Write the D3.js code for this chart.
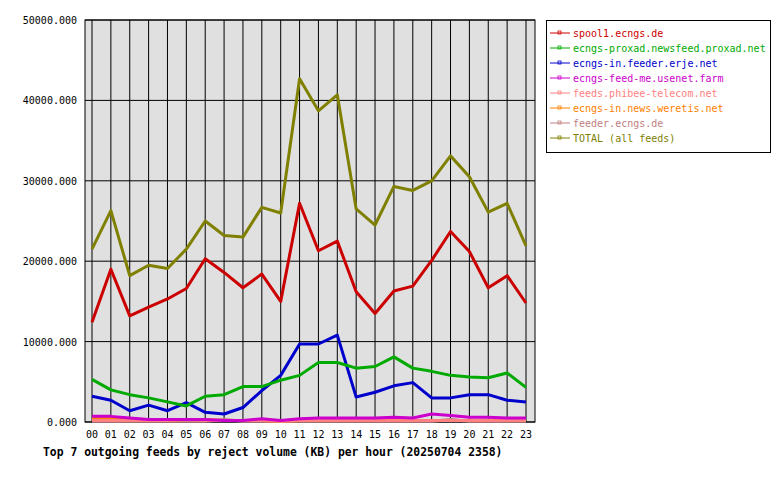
<!DOCTYPE html>
<html><head><meta charset="utf-8">
<script src="https://cdn.jsdelivr.net/npm/d3@7"></script>
<style>body{margin:0;background:#fff}text{font-family:"DejaVu Sans Mono",monospace;font-size:10px}</style>
</head><body><svg id="c" width="780" height="480"></svg>
<script>
const hours=["00","01","02","03","04","05","06","07","08","09","10","11","12","13","14","15","16","17","18","19","20","21","22","23"];
const yTicks=[0,10000,20000,30000,40000,50000];
const seriesNames=["spool1.ecngs.de","ecngs-proxad.newsfeed.proxad.net","ecngs-in.feeder.erje.net","ecngs-feed-me.usenet.farm","feeds.phibee-telecom.net","ecngs-in.news.weretis.net","feeder.ecngs.de","TOTAL (all feeds)"];
const seriesColors=["#cc0000","#00aa00","#0000cc","#cc00cc","#ff8080","#ff8000","#c08080","#808000"];
const spool1=[12400,19000,13200,14300,15300,16600,20300,18600,16700,18400,15000,27200,21300,22500,16200,13500,16300,16900,20100,23700,21200,16700,18200,14800];
const proxad=[5300,4000,3400,3000,2500,2000,3200,3400,4400,4400,5200,5800,7400,7400,6700,6900,8100,6700,6300,5800,5600,5500,6100,4300];
const erje=[3200,2700,1400,2100,1400,2400,1200,1000,1800,3900,5800,9700,9700,10800,3100,3700,4500,4900,3000,3000,3400,3400,2700,2500];
const usenetFarm=[700,700,500,300,300,300,300,200,200,400,200,400,500,500,500,500,600,500,1000,800,600,600,500,500];
const phibee=[200,200,200,200,200,300,200,200,200,200,100,200,200,200,200,200,200,200,200,200,200,200,200,200];
const weretis=[400,500,300,200,200,300,300,200,200,200,100,200,200,200,200,200,200,200,200,200,200,200,200,200];
const feeder=[100,100,100,100,100,100,100,300,100,100,100,100,100,100,100,100,100,100,100,300,100,100,100,100];
const total=[21500,26300,18200,19500,19100,21500,25000,23200,23000,26700,26000,42700,38700,40700,26500,24500,29300,28800,30000,33100,30500,26100,27200,21900];
const allSeries=[spool1,proxad,erje,usenetFarm,phibee,weretis,feeder,total];

const svg=d3.select("#c");
const L=85,R=535,T=20,B=422;
const x=d3.scalePoint().domain(hours).range([92,526]);
const y=d3.scaleLinear().domain([0,50000]).range([B,T]);
svg.append("rect").attr("x",L).attr("y",T).attr("width",R-L).attr("height",B-T).attr("fill","#e0e0e0");
svg.append("g").selectAll("line").data(hours).join("line")
 .attr("x1",d=>x(d)).attr("x2",d=>x(d)).attr("y1",T).attr("y2",B).attr("stroke","#000").attr("stroke-width",1);
svg.append("g").selectAll("line").data(yTicks).join("line")
 .attr("x1",L).attr("x2",R).attr("y1",d=>y(d)).attr("y2",d=>y(d)).attr("stroke","#000");
svg.append("rect").attr("x",L).attr("y",T).attr("width",R-L).attr("height",B-T).attr("fill","none").attr("stroke","#000");
const line=d3.line().x((d,i)=>x(hours[i])).y(d=>y(d));
[6,5,4,3,2,1,0,7].forEach(k=>{
 svg.append("path").attr("d",line(allSeries[k])).attr("fill","none").attr("stroke",seriesColors[k]).attr("stroke-width",3).attr("stroke-linejoin","round");
});
svg.append("g").selectAll("text").data(yTicks).join("text")
 .attr("x",L-8).attr("y",d=>y(d)+4).attr("text-anchor","end").text(d=>d3.format(".3f")(d));
svg.append("g").selectAll("text").data(hours).join("text")
 .attr("x",d=>x(d)).attr("y",438).attr("text-anchor","middle").text(d=>d);
svg.append("text").attr("x",43).attr("y",456).attr("font-weight","bold").style("font-size","11.4px").text("Top 7 outgoing feeds by reject volume (KB) per hour (20250704 2358)");
const lg=svg.append("g");
lg.append("rect").attr("x",546.5).attr("y",20.5).attr("width",224).attr("height",132).attr("fill","#fff").attr("stroke","#000");
seriesNames.forEach((n,i)=>{
 const yy=37+i*15;
 lg.append("line").attr("x1",550).attr("x2",570).attr("y1",yy-4).attr("y2",yy-4).attr("stroke",seriesColors[i]);
 lg.append("rect").attr("x",558).attr("y",yy-6).attr("width",3).attr("height",3).attr("fill","none").attr("stroke",seriesColors[i]).attr("stroke-width",0.8);
 lg.append("text").attr("x",573).attr("y",yy).attr("fill",seriesColors[i]).text(n);
});
</script></body></html>
